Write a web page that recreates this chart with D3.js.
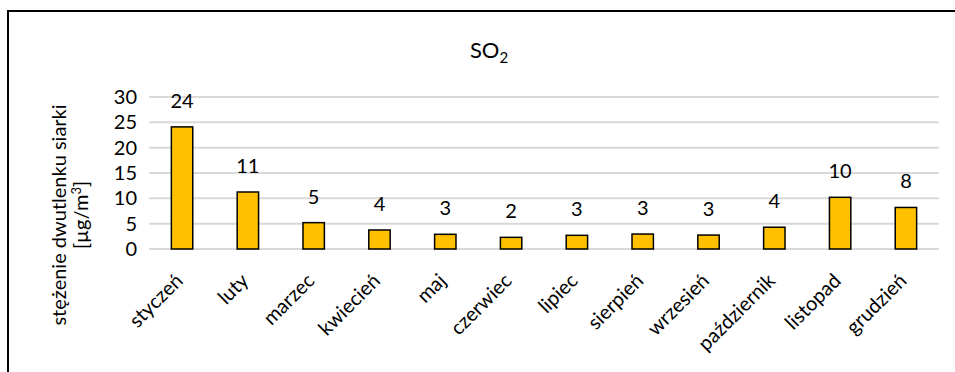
<!DOCTYPE html>
<html>
<head>
<meta charset="utf-8">
<script src="https://cdn.jsdelivr.net/npm/d3@7.9.0/dist/d3.min.js"></script>
<style>
  body { margin: 0; background: #fff; }
  svg { display: block; font-family: Lato, "Open Sans", sans-serif; }
</style>
</head>
<body>
<svg width="955" height="372"></svg>
<script>
// data
const months = ["styczeń", "luty", "marzec", "kwiecień", "maj", "czerwiec",
                "lipiec", "sierpień", "wrzesień", "październik", "listopad", "grudzień"];
const so2 = [24.1, 11.25, 5.2, 3.75, 2.9, 2.3, 2.7, 2.95, 2.75, 4.3, 10.2, 8.2];
const yTicks = [0, 5, 10, 15, 20, 25, 30];

let svg = d3.select("svg");

// outer frame, runs off the right and bottom edges
svg.append("rect")
    .attr("x", 8).attr("y", 11)
    .attr("width", 960).attr("height", 380)
    .attr("fill", "none").attr("stroke", "#000").attr("stroke-width", 2);

const margin = { left: 149, right: 16, top: 97, bottom: 123 };
const width = 955 - margin.left - margin.right;
const height = 372 - margin.top - margin.bottom;

let g = svg.append("g").attr("transform", `translate(${margin.left},${margin.top})`);

let x = d3.scaleBand().domain(months).range([0, width]).paddingInner(0.675).paddingOuter(0.34);
let y = d3.scaleLinear().domain([0, 30]).range([height, 0]);

// gridlines
g.selectAll("line.grid")
    .data(yTicks)
    .enter()
    .append("line")
    .attr("class", "grid")
    .attr("x1", 0).attr("x2", width)
    .attr("y1", d => y(d)).attr("y2", d => y(d))
    .attr("stroke", "#d9d9d9").attr("stroke-width", 2);

// y axis labels
let yAxis = g.append("g").call(d3.axisLeft(y).tickValues(yTicks).tickSize(0).tickPadding(12));
yAxis.select(".domain").remove();
yAxis.selectAll("text")
    .attr("font-family", "Lato, 'Open Sans', sans-serif")
    .attr("font-size", 20)
    .attr("fill", "#000");

// bars
g.selectAll("rect.bar")
    .data(so2)
    .enter()
    .append("rect")
    .attr("class", "bar")
    .attr("x", (d, i) => x(months[i]))
    .attr("y", d => y(d))
    .attr("width", x.bandwidth())
    .attr("height", d => height - y(d))
    .attr("fill", "#ffc000")
    .attr("stroke", "#000")
    .attr("stroke-width", 1.5);

// value labels
g.selectAll("text.val")
    .data(so2)
    .enter()
    .append("text")
    .attr("class", "val")
    .attr("x", (d, i) => x(months[i]) + x.bandwidth() / 2)
    .attr("y", d => y(d) - 19)
    .attr("text-anchor", "middle")
    .attr("font-size", 20)
    .text(d => d3.format(".0f")(d));

// x axis labels, rotated
let xAxis = g.append("g")
    .attr("transform", `translate(0,${height})`)
    .call(d3.axisBottom(x).tickSize(0).tickPadding(0));
xAxis.select(".domain").remove();
xAxis.selectAll("text")
    .attr("font-family", "Lato, 'Open Sans', sans-serif")
    .attr("font-size", 20)
    .attr("fill", "#000")
    .attr("text-anchor", "end")
    .attr("dy", 0)
    .attr("transform", "translate(2,33) rotate(-45)");

// title
let title = svg.append("text")
    .attr("x", 489).attr("y", 58)
    .attr("text-anchor", "middle")
    .attr("font-size", 22);
title.append("tspan").text("SO");
title.append("tspan").attr("font-size", 15).attr("dy", 5).text("2");

// y axis title
let yTitle = svg.append("text")
    .attr("transform", "translate(0,215) rotate(-90)")
    .attr("text-anchor", "middle")
    .attr("font-size", 20);
yTitle.append("tspan").attr("x", 0).attr("y", 66).text("stężenie dwutlenku siarki");
yTitle.append("tspan").attr("x", 0).attr("y", 88).text("[µg/m");
yTitle.append("tspan").attr("font-size", 13).attr("dy", -7).text("3");
yTitle.append("tspan").attr("dy", 7).text("]");
</script>
</body>
</html>
